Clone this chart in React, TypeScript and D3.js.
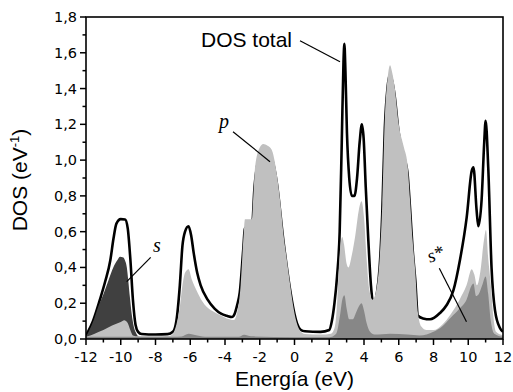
import React from "react";
import * as d3 from "d3";

// Energy (eV), DOS (eV^-1)
const totalDOS: [number, number][] = [
  [-12, 0.02], [-11.6, 0.1], [-11.2, 0.22], [-10.9, 0.32], [-10.6, 0.44], [-10.42, 0.56],
  [-10.25, 0.645], [-10.0, 0.67], [-9.75, 0.668], [-9.6, 0.62], [-9.45, 0.45], [-9.3, 0.22],
  [-9.15, 0.08], [-9.0, 0.04], [-8.8, 0.028], [-8.0, 0.025], [-7.3, 0.027], [-7.0, 0.04],
  [-6.8, 0.1], [-6.6, 0.3], [-6.45, 0.52], [-6.3, 0.6], [-6.1, 0.63], [-5.95, 0.58],
  [-5.8, 0.48], [-5.6, 0.37], [-5.4, 0.3], [-5.0, 0.22], [-4.6, 0.17], [-4.2, 0.14],
  [-3.9, 0.13], [-3.6, 0.123], [-3.45, 0.14], [-3.3, 0.19], [-3.15, 0.26], [-2.95, 0.5],
  [-2.85, 0.62], [-2.45, 0.62], [-2.3, 0.85], [-2.0, 1.02], [-1.8, 1.04], [-1.32, 1.01],
  [-1.03, 0.88], [-0.64, 0.55], [-0.26, 0.28], [0.0, 0.14], [0.15, 0.085], [0.35, 0.052],
  [0.6, 0.043], [1.5, 0.04], [2.0, 0.05], [2.15, 0.1], [2.3, 0.2], [2.45, 0.35], [2.6, 0.6],
  [2.72, 1.1], [2.82, 1.55], [2.87, 1.65], [2.93, 1.5], [3.02, 1.15], [3.15, 0.9], [3.3, 0.8],
  [3.45, 0.8], [3.6, 0.9], [3.75, 1.1], [3.88, 1.2], [3.98, 1.12], [4.1, 0.85], [4.25, 0.55],
  [4.4, 0.3], [4.55, 0.19], [4.75, 0.26], [4.9, 0.4], [5.05, 0.7], [5.2, 1.18], [5.35, 1.4],
  [5.5, 1.48], [5.6, 1.45], [5.75, 1.37], [6.0, 1.15], [6.3, 1.02], [6.5, 0.93], [6.65, 0.73],
  [6.8, 0.5], [6.95, 0.33], [7.1, 0.13], [7.4, 0.115], [7.8, 0.11], [8.37, 0.145],
  [8.76, 0.19], [9.14, 0.27], [9.52, 0.44], [9.91, 0.68], [10.2, 0.94], [10.3, 0.96],
  [10.48, 0.72], [10.58, 0.63], [10.77, 0.78], [10.92, 1.1], [11.0, 1.22], [11.15, 0.96],
  [11.34, 0.4], [11.54, 0.16], [11.83, 0.06], [12, 0.04],
];

const pDOS: [number, number][] = [
  [-12, 0.012], [-11.5, 0.03], [-11, 0.05], [-10.5, 0.075], [-10.0, 0.095], [-9.8, 0.105],
  [-9.6, 0.09], [-9.45, 0.05], [-9.3, 0.02], [-9.0, 0.015], [-8, 0.015], [-7.2, 0.018],
  [-7.0, 0.03], [-6.8, 0.08], [-6.6, 0.18], [-6.45, 0.3], [-6.3, 0.37], [-6.1, 0.39],
  [-5.9, 0.33], [-5.63, 0.27], [-5.3, 0.21], [-5.06, 0.18], [-4.6, 0.15], [-4.29, 0.134],
  [-3.9, 0.115], [-3.5, 0.106], [-3.3, 0.15], [-3.1, 0.3], [-2.95, 0.55], [-2.85, 0.67],
  [-2.45, 0.67], [-2.37, 0.8], [-2.27, 0.96], [-2.0, 1.07], [-1.8, 1.09], [-1.55, 1.08],
  [-1.32, 1.06], [-1.03, 0.93], [-0.8, 0.75], [-0.64, 0.59], [-0.45, 0.45], [-0.26, 0.31],
  [-0.1, 0.2], [0.1, 0.1], [0.3, 0.05], [0.6, 0.028], [1.5, 0.025], [2.1, 0.03], [2.3, 0.06],
  [2.45, 0.2], [2.55, 0.4], [2.65, 0.53], [2.75, 0.57], [2.85, 0.53], [3.0, 0.42], [3.1, 0.4],
  [3.3, 0.47], [3.5, 0.58], [3.7, 0.72], [3.86, 0.77], [4.0, 0.68], [4.15, 0.45], [4.3, 0.28],
  [4.5, 0.22], [4.75, 0.3], [4.9, 0.45], [5.05, 0.75], [5.2, 1.24], [5.35, 1.45], [5.5, 1.53],
  [5.6, 1.5], [5.75, 1.42], [6.0, 1.2], [6.3, 1.07], [6.5, 0.98], [6.65, 0.78], [6.8, 0.55],
  [6.95, 0.38], [7.1, 0.15], [7.3, 0.07], [7.6, 0.05], [8.0, 0.05], [8.5, 0.08], [9.0, 0.14],
  [9.5, 0.22], [9.9, 0.3], [10.2, 0.39], [10.35, 0.36], [10.5, 0.3], [10.7, 0.38],
  [10.9, 0.55], [11.02, 0.61], [11.15, 0.45], [11.3, 0.3], [11.45, 0.12], [11.6, 0.04],
  [12, 0.02],
];

const sDOS: [number, number][] = [
  [-12, 0.012], [-11.8, 0.05], [-11.58, 0.1], [-11.3, 0.18], [-11.0, 0.25], [-10.7, 0.33],
  [-10.43, 0.4], [-10.2, 0.44], [-10.04, 0.46], [-9.85, 0.455], [-9.76, 0.44], [-9.65, 0.4],
  [-9.57, 0.33], [-9.47, 0.23], [-9.37, 0.14], [-9.25, 0.07], [-9.1, 0.03], [-8.9, 0.01],
  [-8.5, 0.0],
];

const sStarDOS: [number, number][] = [
  [-12, 0.012], [-7.0, 0.012], [-6.5, 0.014], [-6.1, 0.03], [-5.6, 0.02], [-5.0, 0.012],
  [-3.2, 0.012], [-2.9, 0.024], [-2.5, 0.015], [0, 0.01], [2.0, 0.01], [2.4, 0.03],
  [2.6, 0.12], [2.75, 0.22], [2.87, 0.245], [3.0, 0.17], [3.15, 0.11], [3.35, 0.11],
  [3.55, 0.15], [3.75, 0.19], [3.86, 0.2], [4.0, 0.16], [4.15, 0.09], [4.35, 0.04],
  [4.6, 0.025], [5.5, 0.03], [6.5, 0.025], [7.2, 0.02], [7.6, 0.025], [8.0, 0.04],
  [8.5, 0.07], [9.0, 0.12], [9.5, 0.17], [9.9, 0.22], [10.2, 0.3], [10.3, 0.31],
  [10.45, 0.24], [10.6, 0.25], [10.8, 0.3], [11.0, 0.35], [11.15, 0.25], [11.3, 0.1],
  [11.5, 0.03], [12, 0.012],
];

const xMajorTicks = [-12, -10, -8, -6, -4, -2, 0, 2, 4, 6, 8, 10, 12];
const xMinorTicks = [-11, -9, -7, -5, -3, -1, 1, 3, 5, 7, 9, 11];
const yMajorTicks = [0, 0.2, 0.4, 0.6, 0.8, 1.0, 1.2, 1.4, 1.6, 1.8];
const yMinorTicks = [0.1, 0.3, 0.5, 0.7, 0.9, 1.1, 1.3, 1.5, 1.7];

const W = 513;
const H = 392;
const L = 86, R = 503, T = 17, B = 339;

export default function App() {
  const x = d3.scaleLinear().domain([-12, 12]).range([L, R]);
  const y = d3.scaleLinear().domain([0, 1.8]).range([B, T]);
  const area = d3
    .area<[number, number]>()
    .x((d) => x(d[0]))
    .y0(y(0))
    .y1((d) => y(d[1]))
    .curve(d3.curveMonotoneX);
  const line = d3
    .line<[number, number]>()
    .x((d) => x(d[0]))
    .y((d) => y(d[1]))
    .curve(d3.curveMonotoneX);
  const fmt = (v: number) => d3.format(".1f")(v).replace(".", ",");
  const tickFont = "'DejaVu Sans', sans-serif";
  const labFont = "'Liberation Sans', Arial, sans-serif";
  const serif = "'Liberation Serif', 'Times New Roman', serif";

  return (
    <svg
      width={W}
      height={H}
      style={{ position: "absolute", left: 0, top: 0, background: "#fff" }}
    >
      <defs>
        <clipPath id="plot">
          <rect x={L} y={T} width={R - L} height={B - T} />
        </clipPath>
      </defs>
      <g clipPath="url(#plot)">
        <path d={line(totalDOS) || ""} fill="none" stroke="#000" strokeWidth={2.6} strokeLinejoin="round" />
        <path d={area(sDOS) || ""} fill="#404040" />
        <path d={area(pDOS) || ""} fill="#c0c0c0" />
        <path d={area(sStarDOS) || ""} fill="#878787" />
      </g>

      {/* frame */}
      <rect x={L} y={T} width={R - L} height={B - T} fill="none" stroke="#000" strokeWidth={1.6} />

      {/* x ticks */}
      {xMajorTicks.map((t) => (
        <g key={"xM" + t}>
          <line x1={x(t)} x2={x(t)} y1={B} y2={B + 6} stroke="#000" strokeWidth={1.5} />
          <text x={x(t)} y={361.5} textAnchor="middle" fontFamily={tickFont} fontSize={14.5} fill="#000">
            {t}
          </text>
        </g>
      ))}
      {xMinorTicks.map((t) => (
        <line key={"xm" + t} x1={x(t)} x2={x(t)} y1={B} y2={B + 3.5} stroke="#000" strokeWidth={1.5} />
      ))}

      {/* y ticks */}
      {yMajorTicks.map((t) => (
        <g key={"yM" + t}>
          <line x1={L - 6} x2={L} y1={y(t)} y2={y(t)} stroke="#000" strokeWidth={1.5} />
          <text x={77} y={y(t) + 5} textAnchor="end" fontFamily={tickFont} fontSize={14.5} fill="#000">
            {fmt(t)}
          </text>
        </g>
      ))}
      {yMinorTicks.map((t) => (
        <line key={"ym" + t} x1={L - 3.5} x2={L} y1={y(t)} y2={y(t)} stroke="#000" strokeWidth={1.5} />
      ))}

      {/* axis titles */}
      <text x={x(0)} y={386} textAnchor="middle" fontFamily={labFont} fontSize={21} fill="#000">
        Energía (eV)
      </text>
      <text
        transform={`translate(27, ${(T + B) / 2 + 2}) rotate(-90)`}
        textAnchor="middle"
        fontFamily={labFont}
        fontSize={21}
        fill="#000"
      >
        DOS (eV
        <tspan fontSize={13} dy={-8}>-1</tspan>
        <tspan dy={8}>)</tspan>
      </text>

      {/* annotations */}
      <text x={201} y={46.5} fontFamily={labFont} fontSize={21} fill="#000">
        DOS total
      </text>
      <line x1={300} y1={40.7} x2={340} y2={61.7} stroke="#000" strokeWidth={1.2} />

      <text x={219} y={128} fontFamily={serif} fontStyle="italic" fontSize={20} fill="#000">
        p
      </text>
      <line x1={233} y1={131.7} x2={270} y2={161.7} stroke="#000" strokeWidth={1.2} />

      <text x={153} y={252} fontFamily={serif} fontStyle="italic" fontSize={20} fill="#000">
        s
      </text>
      <line x1={150.7} y1={257.3} x2={126.7} y2={281.7} stroke="#000" strokeWidth={1.2} />

      <text
        transform="translate(430, 263) rotate(-22)"
        fontFamily={serif}
        fontStyle="italic"
        fontSize={19}
        fill="#000"
      >
        s*
      </text>
      <line x1={439.3} y1={268.3} x2={466.5} y2={321.7} stroke="#000" strokeWidth={1.2} />
    </svg>
  );
}
